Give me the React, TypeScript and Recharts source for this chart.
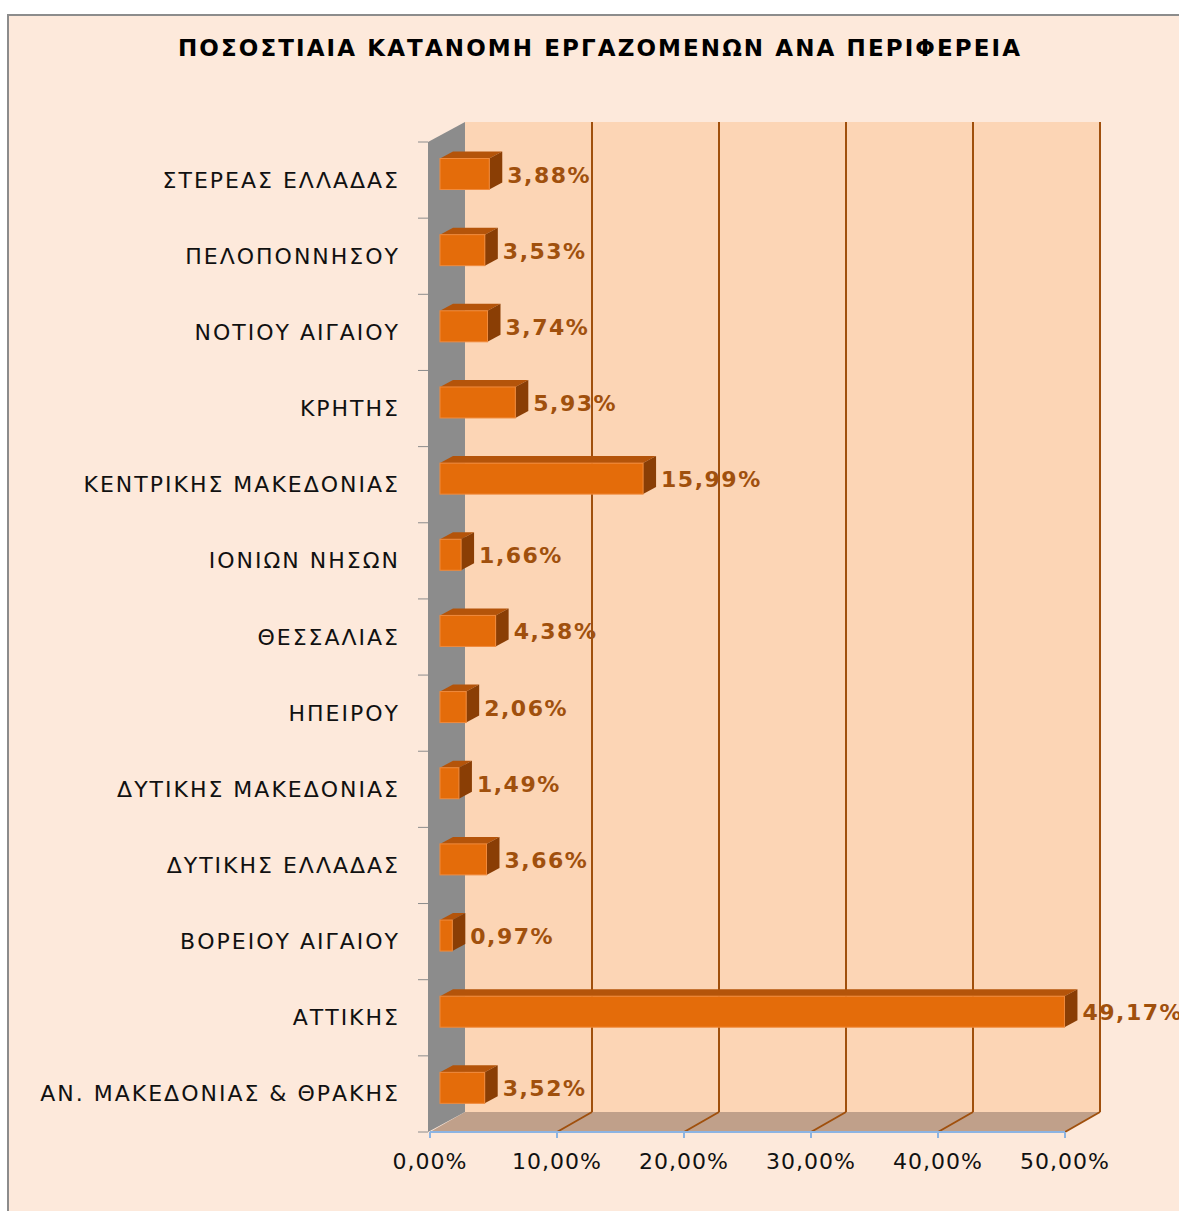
import React from 'react';
import { BarChart, Bar, XAxis, YAxis, CartesianGrid, ReferenceArea, LabelList } from 'recharts';

// regions, top to bottom as in the chart
const regions = [
  'ΣΤΕΡΕΑΣ ΕΛΛΑΔΑΣ',
  'ΠΕΛΟΠΟΝΝΗΣΟΥ',
  'ΝΟΤΙΟΥ ΑΙΓΑΙΟΥ',
  'ΚΡΗΤΗΣ',
  'ΚΕΝΤΡΙΚΗΣ ΜΑΚΕΔΟΝΙΑΣ',
  'ΙΟΝΙΩΝ ΝΗΣΩΝ',
  'ΘΕΣΣΑΛΙΑΣ',
  'ΗΠΕΙΡΟΥ',
  'ΔΥΤΙΚΗΣ ΜΑΚΕΔΟΝΙΑΣ',
  'ΔΥΤΙΚΗΣ ΕΛΛΑΔΑΣ',
  'ΒΟΡΕΙΟΥ ΑΙΓΑΙΟΥ',
  'ΑΤΤΙΚΗΣ',
  'ΑΝ. ΜΑΚΕΔΟΝΙΑΣ & ΘΡΑΚΗΣ',
];
const shares = [3.88, 3.53, 3.74, 5.93, 15.99, 1.66, 4.38, 2.06, 1.49, 3.66, 0.97, 49.17, 3.52];
const xTicks = [0, 10, 20, 30, 40, 50];

const title = 'ΠΟΣΟΣΤΙΑΙΑ ΚΑΤΑΝΟΜΗ ΕΡΓΑΖΟΜΕΝΩΝ ΑΝΑ ΠΕΡΙΦΕΡΕΙΑ';

const data = regions.map((region, i) => ({ region, share: shares[i] }));

const FONT = '"DejaVu Sans", Verdana, sans-serif';
// 3d depth of the plot box and of the bars
const DX = 35;
const DY = -20;
const BDX = 13;
const BDY = -7;
const BAR_OFF_X = 10;
const BAR_OFF_Y = -6.5;

const fmt = (v: number) => v.toFixed(2).replace('.', ',') + '%';

// back wall, left wall, floor and the category ticks
const Walls = (props: any) => {
  const { x, y, width, height } = props;
  const ticks = [];
  for (let i = 0; i <= regions.length; i++) {
    const ty = y + (i * height) / regions.length;
    ticks.push(<line key={i} x1={x - 12} x2={x - 2} y1={ty} y2={ty} stroke="#8c8c8c" strokeWidth={1} />);
  }
  return (
    <g>
      <rect x={x + DX} y={y + DY} width={width} height={height} fill="#FCD5B5" />
      <polygon
        points={`${x},${y + height} ${x + DX},${y + height + DY} ${x + width + DX},${y + height + DY} ${x + width},${y + height}`}
        fill="#C0A08A"
      />
      <polygon
        points={`${x - 2},${y} ${x + DX},${y + DY} ${x + DX},${y + height + DY} ${x - 2},${y + height}`}
        fill="#8C8C8C"
      />
      {ticks}
    </g>
  );
};

// gridlines sit on the back wall and run down across the floor
const GridLine = (props: any) => {
  const { x1, y1, y2, index } = props;
  if (index === 0) return <g key={`gl${index}`} />;
  return (
    <g key={`gl${index}`}>
      <line x1={x1 + DX} x2={x1 + DX} y1={y1 + DY} y2={y2 + DY} stroke="#A0500D" strokeWidth={2} />
      <line x1={x1} y1={y2} x2={x1 + DX} y2={y2 + DY} stroke="#A0500D" strokeWidth={2} />
    </g>
  );
};

const Bar3D = (props: any) => {
  const { x, y, width, height } = props;
  const fx = x + BAR_OFF_X;
  const fy = y + BAR_OFF_Y;
  return (
    <g>
      <polygon
        points={`${fx},${fy} ${fx + width},${fy} ${fx + width + BDX},${fy + BDY} ${fx + BDX},${fy + BDY}`}
        fill="#B4540A"
      />
      <polygon
        points={`${fx + width},${fy} ${fx + width + BDX},${fy + BDY} ${fx + width + BDX},${fy + height + BDY} ${fx + width},${fy + height}`}
        fill="#8A3E05"
      />
      <rect x={fx} y={fy} width={width} height={height} fill="#E46C0A" stroke="#F08A3C" strokeWidth={1} />
    </g>
  );
};

const ValueLabel = (props: any) => {
  const { x, y, width, height, value } = props;
  return (
    <text
      x={x + width + BAR_OFF_X + BDX + 5}
      y={y + BAR_OFF_Y + height / 2 + 1}
      dominantBaseline="central"
      fontFamily={FONT}
      fontWeight="bold"
      fontSize={22}
      letterSpacing={1.5}
      fill="#A0500D"
    >
      {fmt(Number(value))}
    </text>
  );
};

const RegionTick = (props: any) => {
  const { y, payload } = props;
  return (
    <text
      x={400}
      y={y}
      textAnchor="end"
      dominantBaseline="central"
      fontFamily={FONT}
      fontSize={22}
      letterSpacing={2}
      fill="#111"
    >
      {payload.value}
    </text>
  );
};

const PercentTick = (props: any) => {
  const { x, y, payload } = props;
  return (
    <text
      x={x}
      y={y + 19}
      textAnchor="middle"
      dominantBaseline="central"
      fontFamily={FONT}
      fontSize={22}
      letterSpacing={1}
      fill="#111"
    >
      {fmt(payload.value)}
    </text>
  );
};

export default function App() {
  return (
    <div style={{ position: 'absolute', left: 0, top: 0, width: 1179, height: 1211, background: '#fff', overflow: 'hidden' }}>
      {/* chart area frame */}
      <div
        style={{
          position: 'absolute',
          left: 7,
          top: 14,
          width: 1180,
          height: 1220,
          background: '#FDE9DB',
          border: '2px solid #8C8C8C',
          boxSizing: 'border-box',
        }}
      />
      <svg width={1179} height={80} style={{ position: 'absolute', left: 0, top: 0 }}>
        <text
          x={599}
          y={48}
          textAnchor="middle"
          dominantBaseline="central"
          fontFamily={FONT}
          fontWeight="bold"
          fontSize={23}
          textLength={842}
          lengthAdjust="spacing"
          fill="#000"
        >
          {title}
        </text>
      </svg>
      <div style={{ position: 'absolute', left: 0, top: 0 }}>
        <BarChart
          width={1179}
          height={1211}
          layout="vertical"
          data={data}
          margin={{ top: 142, right: 114, bottom: 39, left: 0 }}
        >
          <ReferenceArea x1={0} x2={50} shape={<Walls />} fillOpacity={1} zIndex={-200} ifOverflow="visible" />
          <CartesianGrid horizontal={false} vertical={GridLine as any} />
          <XAxis
            type="number"
            domain={[0, 50]}
            ticks={xTicks}
            height={40}
            stroke="#8DB4E2"
            tickLine={{ stroke: '#8DB4E2', strokeWidth: 2 }}
            axisLine={{ stroke: '#8DB4E2', strokeWidth: 2 }}
            tickSize={6}
            tickMargin={4}
            tick={<PercentTick />}
          />
          <YAxis
            type="category"
            dataKey="region"
            width={430}
            axisLine={false}
            tickLine={false}
            tick={<RegionTick />}
            interval={0}
          />
          <Bar dataKey="share" barSize={31} fill="#E46C0A" shape={<Bar3D />} isAnimationActive={false}>
            <LabelList dataKey="share" content={<ValueLabel />} />
          </Bar>
        </BarChart>
      </div>
    </div>
  );
}
